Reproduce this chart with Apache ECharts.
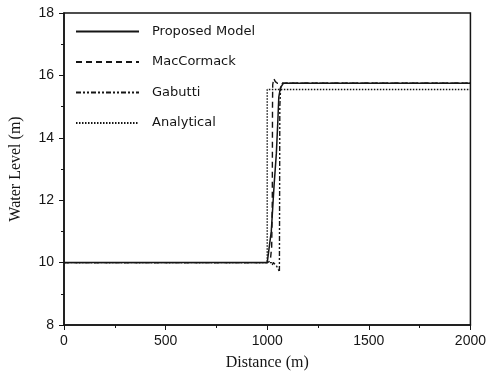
<!DOCTYPE html>
<html>
<head>
<meta charset="utf-8">
<script src="https://cdn.jsdelivr.net/npm/echarts@6/dist/echarts.min.js"></script>
<style>html,body{margin:0;padding:0;background:#fff}#c{width:489px;height:376px}</style>
</head>
<body>
<div id="c"></div>
<script>
var seriesNames = ['Proposed Model', 'MacCormack', 'Gabutti', 'Analytical'];
var xTicks = [0, 500, 1000, 1500, 2000];
var yTicks = [8, 10, 12, 14, 16, 18];

var proposedX = [0, 1000, 1008, 1020, 1034, 1045, 1052, 1057, 1065, 1080, 2000];
var proposedY = [10, 10, 10.05, 11.0, 12.5, 13.5, 14.5, 15.3, 15.6, 15.75, 15.75];

var macX = [0, 1000, 1015, 1022, 1025, 1026, 1027, 1032, 1040, 1050, 2000];
var macY = [10, 10, 10.05, 10.5, 12, 15, 15.7, 15.9, 15.8, 15.75, 15.75];

var gabX = [0, 1000, 1020, 1025, 1030, 1045, 1055, 1060, 1061, 1062, 1066, 1075, 2000];
var gabY = [10, 10, 10.0, 9.92, 10.0, 9.9, 9.78, 9.7, 12, 15, 15.6, 15.75, 15.75];

var anaX = [0, 1000, 1000, 2000];
var anaY = [10, 10, 15.55, 15.55];

function pairs(xs, ys) { return xs.map(function (x, i) { return [x, ys[i]]; }); }

var ink = '#151515';
var styles = [
  { width: 1.5, type: 'solid' },
  { width: 1.4, type: [6, 4] },
  { width: 1.4, type: [5, 2, 2, 2, 2, 2] },
  { width: 1.4, type: [1.5, 1.5] }
];
var datas = [pairs(proposedX, proposedY), pairs(macX, macY), pairs(gabX, gabY), pairs(anaX, anaY)];

var chart = echarts.init(document.getElementById('c'), null, { renderer: 'canvas' });
chart.setOption({
  animation: false,
  backgroundColor: '#fff',
  grid: { left: 62, right: 16, top: 13, bottom: 49, show: true, borderColor: ink, borderWidth: 1.5, backgroundColor: 'transparent' },
  legend: {
    orient: 'vertical', left: 70, top: 20, itemWidth: 63, itemHeight: 10, itemGap: 17.5,
    data: seriesNames,
    itemStyle: { opacity: 0 },
    textStyle: { fontFamily: 'DejaVu Sans', fontSize: 13, color: ink, padding: [0, 0, 0, 8] }
  },
  xAxis: {
    type: 'value', min: 0, max: 2000, interval: 500,
    name: 'Distance (m)', nameLocation: 'middle', nameGap: 30,
    nameTextStyle: { fontFamily: 'Liberation Serif', fontSize: 16, color: ink },
    axisLine: { lineStyle: { color: ink, width: 1.5 } },
    axisTick: { inside: false, length: 5, lineStyle: { color: ink } },
    minorTick: { show: true, splitNumber: 2, length: 3, lineStyle: { color: ink } },
    splitLine: { show: false },
    axisLabel: { fontFamily: 'Liberation Sans', fontSize: 14, color: ink, margin: 9,
      formatter: function (v) { return xTicks.indexOf(v) >= 0 ? String(v) : ''; } }
  },
  yAxis: {
    type: 'value', min: 8, max: 18, interval: 2,
    name: 'Water Level (m)', nameLocation: 'middle', nameGap: 40,
    nameTextStyle: { fontFamily: 'Liberation Serif', fontSize: 16, color: ink },
    axisLine: { show: true, lineStyle: { color: ink, width: 1.5 } },
    axisTick: { show: true, inside: false, length: 5, lineStyle: { color: ink } },
    minorTick: { show: true, splitNumber: 2, length: 3, lineStyle: { color: ink } },
    splitLine: { show: false },
    axisLabel: { fontFamily: 'Liberation Sans', fontSize: 14, color: ink, margin: 10,
      formatter: function (v) { return yTicks.indexOf(v) >= 0 ? String(v) : ''; } }
  },
  series: seriesNames.map(function (n, i) {
    return {
      name: n, type: 'line', data: datas[i], showSymbol: false, symbol: 'none',
      z: 10 - i,
      lineStyle: { color: ink, width: styles[i].width, type: styles[i].type },
      itemStyle: { color: ink }
    };
  })
});
</script>
</body>
</html>
